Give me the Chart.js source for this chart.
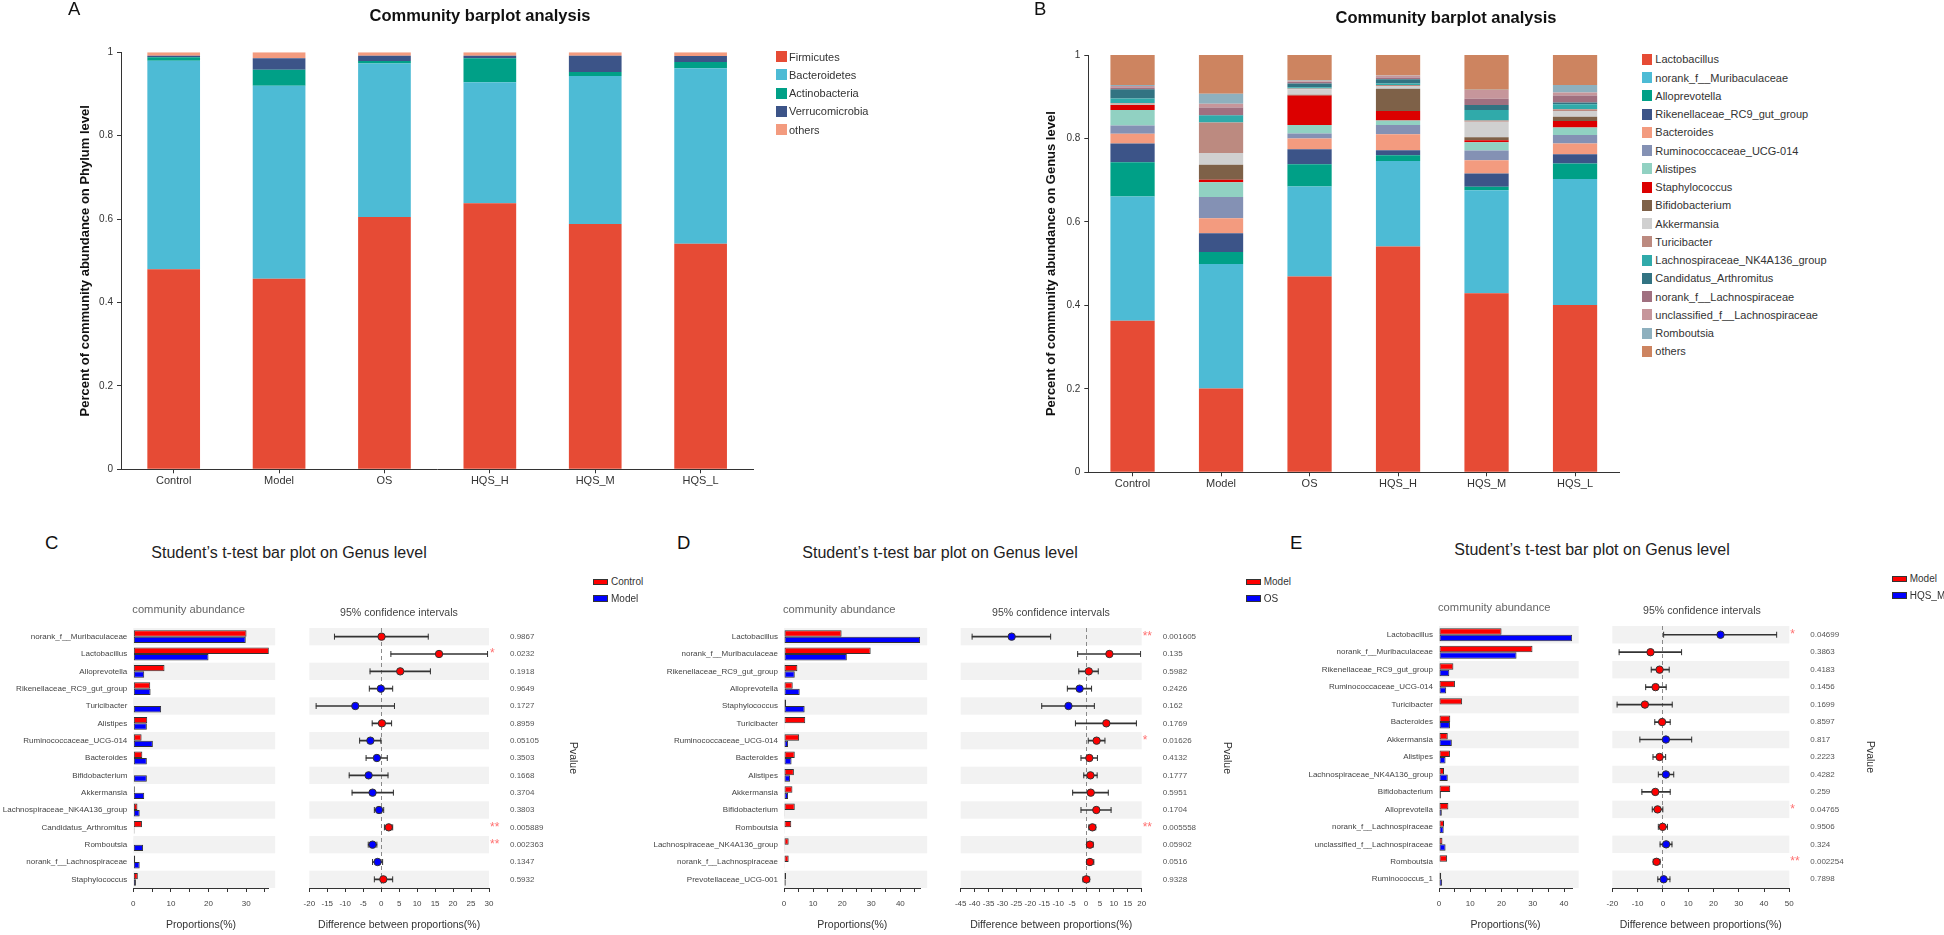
<!DOCTYPE html>
<html>
<head>
<meta charset="utf-8">
<script src="https://cdn.jsdelivr.net/npm/chart.js@4.4.1/dist/chart.umd.min.js"></script>
<style>
  body { margin: 0; background: #fff; }
  #fig { position: relative; width: 1944px; height: 935px; overflow: hidden; font-family: "Liberation Sans", Arial, sans-serif; color: #222; }
  #fig canvas { position: absolute; }
  .txt { position: absolute; white-space: nowrap; line-height: 1; }
  .sw { position: absolute; box-sizing: border-box; }
</style>
</head>
<body>
<div id="fig"></div>
<script>
// ---- panel A / B : community barplots ----
const groupsAB = ["Control", "Model", "OS", "HQS_H", "HQS_M", "HQS_L"];

const phyla = ["Firmicutes", "Bacteroidetes", "Actinobacteria", "Verrucomicrobia", "others"];
const pFirmicutes = [0.480, 0.457, 0.605, 0.638, 0.588, 0.541];
const pBacteroidetes = [0.500, 0.463, 0.368, 0.290, 0.355, 0.421];
const pActinobacteria = [0.008, 0.038, 0.006, 0.058, 0.010, 0.015];
const pVerrucomicrobia = [0.004, 0.028, 0.013, 0.006, 0.039, 0.014];
const pOthers = [0.008, 0.014, 0.008, 0.008, 0.008, 0.009];

const genera = ["Lactobacillus", "norank_f__Muribaculaceae", "Alloprevotella", "Rikenellaceae_RC9_gut_group",
  "Bacteroides", "Ruminococcaceae_UCG-014", "Alistipes", "Staphylococcus", "Bifidobacterium", "Akkermansia",
  "Turicibacter", "Lachnospiraceae_NK4A136_group", "Candidatus_Arthromitus", "norank_f__Lachnospiraceae",
  "unclassified_f__Lachnospiraceae", "Romboutsia", "others"];
const gLactobacillus = [0.363, 0.201, 0.469, 0.541, 0.429, 0.401];
const gMuribaculaceae = [0.298, 0.298, 0.216, 0.205, 0.247, 0.302];
const gAlloprevotella = [0.082, 0.029, 0.053, 0.014, 0.008, 0.037];
const gRikenellaceae = [0.045, 0.045, 0.036, 0.012, 0.032, 0.022];
const gBacteroides = [0.023, 0.036, 0.026, 0.038, 0.032, 0.026];
const gRuminococcaceae = [0.020, 0.051, 0.012, 0.022, 0.023, 0.020];
const gAlistipes = [0.037, 0.035, 0.020, 0.011, 0.020, 0.018];
const gStaphylococcus = [0.012, 0.006, 0.071, 0.023, 0.005, 0.016];
const gBifidobacterium = [0.001, 0.036, 0.002, 0.053, 0.007, 0.010];
const gAkkermansia = [0.002, 0.028, 0.013, 0.007, 0.037, 0.014];
const gTuricibacter = [0.002, 0.073, 0.002, 0.002, 0.003, 0.004];
const gLachnoNK4A136 = [0.011, 0.017, 0.003, 0.004, 0.025, 0.012];
const gCandidatus = [0.022, 0.001, 0.009, 0.010, 0.012, 0.004];
const gNorankLachno = [0.004, 0.018, 0.003, 0.004, 0.015, 0.017];
const gUnclassLachno = [0.004, 0.009, 0.002, 0.004, 0.021, 0.007];
const gRomboutsia = [0.002, 0.024, 0.002, 0.001, 0.001, 0.018];
const gOthers = [0.072, 0.093, 0.061, 0.049, 0.083, 0.072];

// ---- panel C : Control vs Model ----
const cLabels = ["norank_f__Muribaculaceae", "Lactobacillus", "Alloprevotella", "Rikenellaceae_RC9_gut_group",
  "Turicibacter", "Alistipes", "Ruminococcaceae_UCG-014", "Bacteroides", "Bifidobacterium", "Akkermansia",
  "Lachnospiraceae_NK4A136_group", "Candidatus_Arthromitus", "Romboutsia", "norank_f__Lachnospiraceae", "Staphylococcus"];
const cControl = [30.1, 36.1, 8.3, 4.5, 0.1, 3.7, 2.2, 2.4, 0.1, 0.4, 1.1, 2.3, 0.1, 0.5, 1.2];
const cModel = [29.9, 20.0, 2.9, 4.6, 7.4, 3.6, 5.2, 3.6, 3.6, 2.9, 1.7, 0.3, 2.6, 1.7, 0.7];
const cDiff = [0.1, 16.1, 5.3, -0.1, -7.2, 0.2, -3.0, -1.2, -3.5, -2.4, -0.6, 2.1, -2.4, -1.0, 0.6];
const cLow = [-13.0, 2.7, -3.1, -3.3, -18.1, -2.5, -6.0, -4.2, -8.9, -8.1, -1.9, 0.9, -3.6, -2.4, -1.9];
const cHigh = [13.1, 29.6, 13.7, 3.2, 3.7, 2.9, -0.1, 1.7, 1.9, 3.4, 0.7, 3.2, -1.2, 0.4, 3.2];
const cPvalues = ["0.9867", "0.0232", "0.1918", "0.9649", "0.1727", "0.8959", "0.05105", "0.3503", "0.1668",
  "0.3704", "0.3803", "0.005889", "0.002363", "0.1347", "0.5932"];

// ---- panel D : Model vs OS ----
const dLabels = ["Lactobacillus", "norank_f__Muribaculaceae", "Rikenellaceae_RC9_gut_group", "Alloprevotella",
  "Staphylococcus", "Turicibacter", "Ruminococcaceae_UCG-014", "Bacteroides", "Alistipes", "Akkermansia",
  "Bifidobacterium", "Romboutsia", "Lachnospiraceae_NK4A136_group", "norank_f__Lachnospiraceae", "Prevotellaceae_UCG-001"];
const dModel = [19.8, 29.8, 4.6, 3.0, 0.7, 7.3, 5.2, 3.7, 3.4, 2.9, 3.7, 2.5, 1.6, 1.6, 0.7];
const dOS = [46.8, 21.6, 3.7, 5.4, 7.1, 0.1, 1.4, 2.6, 2.1, 1.4, 0.1, 0.1, 0.1, 0.1, 0.6];
const dDiff = [-26.7, 8.4, 1.0, -2.3, -6.3, 7.3, 3.8, 1.2, 1.6, 1.7, 3.7, 2.3, 1.4, 1.4, 0.1];
const dLow = [-40.9, -3.0, -2.6, -6.7, -15.9, -3.8, 0.8, -1.8, -0.8, -4.8, -1.8, 1.0, 0.2, 0.2, -1.1];
const dHigh = [-12.7, 19.6, 4.4, 2.0, 3.0, 18.1, 6.8, 4.1, 4.0, 8.0, 9.0, 3.5, 2.6, 2.8, 1.3];
const dPvalues = ["0.001605", "0.135", "0.5982", "0.2426", "0.162", "0.1769", "0.01626", "0.4132", "0.1777",
  "0.5951", "0.1704", "0.005558", "0.05902", "0.0516", "0.9328"];

// ---- panel E : Model vs HQS_M ----
const eLabels = ["Lactobacillus", "norank_f__Muribaculaceae", "Rikenellaceae_RC9_gut_group", "Ruminococcaceae_UCG-014",
  "Turicibacter", "Bacteroides", "Akkermansia", "Alistipes", "Lachnospiraceae_NK4A136_group", "Bifidobacterium",
  "Alloprevotella", "norank_f__Lachnospiraceae", "unclassified_f__Lachnospiraceae", "Romboutsia", "Ruminococcus_1"];
const eModel = [20.0, 29.9, 4.6, 5.1, 7.4, 3.6, 2.8, 3.5, 1.6, 3.6, 3.0, 1.6, 1.1, 2.6, 0.7];
const eHQSM = [42.6, 24.8, 3.3, 2.3, 0.1, 3.5, 4.1, 2.1, 2.8, 0.6, 0.9, 1.5, 2.1, 0.1, 1.0];
const eDiff = [22.8, -4.9, -1.3, -2.9, -7.1, -0.3, 1.2, -1.3, 1.2, -3.0, -2.1, -0.1, 1.3, -2.5, 0.3];
const eLow = [0.3, -17.3, -4.6, -6.8, -18.1, -3.2, -9.1, -3.9, -1.8, -8.3, -4.2, -1.8, -1.1, -3.8, -2.0];
const eHigh = [45.0, 7.4, 2.5, 1.3, 3.7, 2.9, 11.4, 1.1, 4.3, 2.9, 0.0, 1.8, 3.6, -1.1, 2.8];
const ePvalues = ["0.04699", "0.3863", "0.4183", "0.1456", "0.1699", "0.8597", "0.817", "0.2223", "0.4282",
  "0.259", "0.04765", "0.9506", "0.324", "0.002254", "0.7898"];

const phylaColors = ["#E64B35", "#4DBBD5", "#00A087", "#3C5488", "#F39B7F"];
const genusColors = ["#E64B35", "#4DBBD5", "#00A087", "#3C5488", "#F39B7F", "#8491B4", "#91D1C2", "#DC0000",
  "#7E6148", "#D0D0D0", "#BC8A80", "#30AAAA", "#327382", "#A07080", "#C6969B", "#8EB0BE", "#CD8460"];
const RED = "#ff0000";
const BLUE = "#0000ff";

Chart.defaults.font.family = '"Liberation Sans", Arial, sans-serif';
Chart.defaults.color = "#333";

const fig = document.getElementById("fig");

function addCanvas(left, top, width, height) {
  const c = document.createElement("canvas");
  c.width = width;
  c.height = height;
  c.style.left = left + "px";
  c.style.top = top + "px";
  c.style.width = width + "px";
  c.style.height = height + "px";
  fig.appendChild(c);
  return c;
}

function addText(text, x, y, css, centered) {
  const d = document.createElement("div");
  d.className = "txt";
  d.textContent = text;
  Object.assign(d.style, css);
  d.style.left = x + "px";
  d.style.top = y + "px";
  d.style.transform = centered ? "translate(-50%,-50%)" : "translate(0,-50%)";
  fig.appendChild(d);
}

function addSwatch(x, y, w, h, color, border) {
  const s = document.createElement("div");
  s.className = "sw";
  s.style.left = x + "px";
  s.style.top = y - h / 2 + "px";
  s.style.width = w + "px";
  s.style.height = h + "px";
  s.style.background = color;
  if (border) s.style.border = "1px solid #333";
  fig.appendChild(s);
}

// light grey band behind every other row
const stripes = {
  id: "stripes",
  beforeDraw(chart, args, opts) {
    const { ctx, chartArea } = chart;
    const y = chart.scales.y;
    const n = y.getLabels().length;
    const h = (chartArea.bottom - chartArea.top) / n;
    ctx.save();
    ctx.fillStyle = "#f2f2f2";
    for (let i = 0; i < n; i += 2) {
      ctx.fillRect(chartArea.left, y.getPixelForValue(i) - h / 2, chartArea.right - chartArea.left + (opts.extend || 0), h);
    }
    ctx.restore();
  },
};

function barplotPanel(box, series, names, colors, yTitle) {
  new Chart(addCanvas(box.left, 0, box.width, 500), {
    type: "bar",
    data: {
      labels: groupsAB,
      datasets: series.map((d, i) => ({
        label: names[i],
        data: d,
        backgroundColor: colors[i],
        categoryPercentage: 1,
        barPercentage: 0.5,
      })),
    },
    options: {
      responsive: false,
      animation: false,
      events: [],
      layout: { padding: { top: box.top, right: box.left + box.width - box.right, left: 0, bottom: 0 } },
      plugins: { legend: { display: false }, tooltip: { enabled: false } },
      scales: {
        x: {
          stacked: true,
          grid: { drawOnChartArea: false, offset: false, tickLength: 4, tickColor: "#333" },
          border: { color: "#333" },
          ticks: { font: { size: 11 }, color: "#333", padding: 1.1 },
          afterFit: (s) => { s.height = 500 - box.bottom; },
        },
        y: {
          stacked: true,
          min: 0,
          max: 1,
          ticks: {
            stepSize: 0.2,
            font: { size: 10 },
            color: "#333",
            padding: 4,
            callback: (v) => String(+v.toFixed(1)),
          },
          grid: { drawOnChartArea: false, tickLength: 4, tickColor: "#333" },
          border: { color: "#333" },
          title: {
            display: true,
            text: yTitle,
            font: { size: 13, weight: "bold" },
            color: "#111",
            padding: { top: box.titleX - box.left - 7.8, bottom: 0 },
          },
          afterFit: (s) => { s.width = box.axisX - box.left; },
        },
      },
    },
  });
}

barplotPanel(
  { left: 40, width: 740, axisX: 121, right: 753.3, top: 52.3, bottom: 469.3, titleX: 85 },
  [pFirmicutes, pBacteroidetes, pActinobacteria, pVerrucomicrobia, pOthers],
  phyla, phylaColors, "Percent of community abundance on Phylum level"
);
barplotPanel(
  { left: 1000, width: 640, axisX: 1088.3, right: 1619.3, top: 55, bottom: 472.3, titleX: 1051.7 },
  [gLactobacillus, gMuribaculaceae, gAlloprevotella, gRikenellaceae, gBacteroides, gRuminococcaceae, gAlistipes,
    gStaphylococcus, gBifidobacterium, gAkkermansia, gTuricibacter, gLachnoNK4A136, gCandidatus, gNorankLachno,
    gUnclassLachno, gRomboutsia, gOthers],
  genera, genusColors, "Percent of community abundance on Genus level"
);

const letterCss = { fontSize: "18.5px", color: "#111" };
const boldTitle = { fontSize: "16.5px", fontWeight: "bold", color: "#111" };
addText("A", 68, 9, letterCss);
addText("B", 1034, 9, letterCss);
addText("Community barplot analysis", 480, 15, boldTitle, true);
addText("Community barplot analysis", 1446, 17, boldTitle, true);

phyla.forEach((name, i) => {
  const y = 56.7 + i * 18.2;
  addSwatch(775.7, y, 11, 11, phylaColors[i]);
  addText(name, 789, y, { fontSize: "11px", color: "#333" });
});
genera.forEach((name, i) => {
  const y = 59.3 + i * 18.25;
  addSwatch(1641.7, y, 10.6, 11, genusColors[i]);
  addText(name, 1655.3, y, { fontSize: "11px", color: "#333" });
});

// ---- t-test panels ----
function tTestPanel(p) {
  const canvasTop = 600;
  const padTop = p.top - canvasTop;

  // community abundance bars
  new Chart(addCanvas(p.barCanvas[0], canvasTop, p.barCanvas[1], 335), {
    type: "bar",
    data: {
      labels: p.labels,
      datasets: [
        { label: p.groups[0], data: p.v1, backgroundColor: RED },
        { label: p.groups[1], data: p.v2, backgroundColor: BLUE },
      ],
    },
    options: {
      indexAxis: "y",
      responsive: false,
      animation: false,
      events: [],
      datasets: { bar: { borderColor: "#333", borderWidth: 1, borderSkipped: false, categoryPercentage: 0.74, barPercentage: 1 } },
      layout: { padding: { top: padTop, right: p.barCanvas[0] + p.barCanvas[1] - p.barArea[1], left: 0, bottom: 0 } },
      plugins: { legend: { display: false }, tooltip: { enabled: false }, stripes: { extend: 6.5 } },
      scales: {
        x: {
          type: "linear",
          min: 0,
          max: p.barMax,
          afterBuildTicks: (s) => { s.ticks = s.ticks.filter((t) => Math.abs(t.value % 5) < 1e-6); },
          ticks: {
            stepSize: 5,
            includeBounds: false,
            autoSkip: false,
            maxRotation: 0,
            font: { size: 8 },
            color: "#444",
            padding: 7.2,
            callback: (v) => (Math.round(v) % 10 === 0 ? Math.round(v) : ""),
          },
          grid: { drawOnChartArea: false, tickLength: 4, tickColor: "#333" },
          border: { color: "#333" },
          title: { display: true, text: "Proportions(%)", font: { size: 10.5 }, color: "#333", padding: { top: 0, bottom: 3.7 } },
          afterFit: (s) => { s.height = 935 - 888; },
        },
        y: {
          type: "category",
          offset: true,
          grid: { display: false, drawTicks: false },
          border: { display: false },
          ticks: { font: { size: 8 }, color: "#444", padding: 6, autoSkip: false },
          afterFit: (s) => { s.width = p.barArea[0] - p.barCanvas[0]; },
        },
      },
    },
    plugins: [stripes],
  });

  // 95% confidence intervals
  const dotColors = p.v1.map((v, i) => (v > p.v2[i] ? RED : BLUE));
  const stars = p.pvalues.map((v) => (+v < 0.01 ? "**" : +v < 0.05 ? "*" : ""));
  const caps = [];
  p.labels.forEach((lab, i) => {
    caps.push({ x: p.low[i], y: lab }, { x: p.high[i], y: lab });
  });

  new Chart(addCanvas(p.ciCanvas[0], canvasTop, p.ciCanvas[1], 335), {
    type: "bar",
    data: {
      labels: p.labels,
      datasets: [
        {
          type: "scatter",
          data: p.diff.map((d, i) => ({ x: d, y: p.labels[i] })),
          pointBackgroundColor: dotColors,
          pointBorderColor: "#333",
          pointBorderWidth: 1,
          pointRadius: 3.7,
          yAxisID: "y",
          order: 0,
        },
        {
          type: "scatter",
          data: caps,
          pointStyle: "line",
          pointRotation: 90,
          pointRadius: 3,
          pointBorderColor: "#333",
          pointBorderWidth: 1,
          yAxisID: "y",
          order: 1,
        },
        {
          type: "bar",
          data: p.low.map((l, i) => [l, p.high[i]]),
          backgroundColor: "#333",
          barThickness: 1,
          yAxisID: "y",
          order: 2,
        },
      ],
    },
    options: {
      indexAxis: "y",
      responsive: false,
      animation: false,
      events: [],
      layout: {
        padding: {
          top: padTop,
          left: p.ciArea[0] - p.ciCanvas[0],
          right: p.ciCanvas[0] + p.ciCanvas[1] - p.pRight,
          bottom: 0,
        },
      },
      plugins: { legend: { display: false }, tooltip: { enabled: false } },
      scales: {
        x: {
          type: "linear",
          min: p.ciMin,
          max: p.ciMax,
          ticks: { stepSize: p.ciStep, includeBounds: false, autoSkip: false, maxRotation: 0, font: { size: 8 }, color: "#444", padding: 7.2 },
          grid: {
            drawOnChartArea: true,
            color: (c) => (c.tick && c.tick.value === 0 ? "#8a8a8a" : "rgba(0,0,0,0)"),
            tickLength: 4,
            tickColor: "#333",
          },
          border: { color: "#333", dash: [4, 3] },
          title: { display: true, text: "Difference between proportions(%)", font: { size: 10.5 }, color: "#333", padding: { top: 0, bottom: 3.7 } },
          afterFit: (s) => { s.height = 935 - 888; },
        },
        y: { type: "category", display: false, offset: true },
        yS: {
          type: "category",
          position: "right",
          labels: stars,
          offset: true,
          weight: 0,
          grid: { display: false, drawTicks: false },
          border: { display: false },
          ticks: { color: "#ff7070", font: { size: 12 }, padding: 1, autoSkip: false },
          afterFit: (s) => { s.width = 19; },
        },
        yP: {
          type: "category",
          position: "right",
          labels: p.pvalues,
          offset: true,
          weight: 1,
          grid: { display: false, drawTicks: false },
          border: { display: false },
          ticks: { color: "#555", font: { size: 8 }, padding: 2, autoSkip: false },
          title: { display: true, text: "Pvalue", font: { size: 10.5 }, color: "#333", padding: { top: 0, bottom: 0 } },
          afterFit: (s) => { s.width = p.pRight - p.ciArea[1] - 19; },
        },
      },
    },
    plugins: [stripes],
  });

  // headers, title and legend
  addText(p.letter, p.letterX, 543, letterCss);
  addText("Student\u2019s t-test bar plot on Genus level", p.titleX, p.titleY, { fontSize: "16px", color: "#222" }, true);
  addText("community abundance", p.barArea[0] - 1, p.top - 18, { fontSize: "11.2px", color: "#666" });
  addText("95% confidence intervals", p.ciHeadX, p.top - 16, { fontSize: "10.6px", color: "#444" });
  p.groups.forEach((g, i) => {
    const y = p.legendY + i * 16.5;
    addSwatch(p.legendX, y, 15, 6.5, i === 0 ? RED : BLUE, true);
    addText(g, p.legendX + 18, y, { fontSize: "10px", color: "#333" });
  });
}

tTestPanel({
  letter: "C", letterX: 45, titleX: 289, titleY: 553,
  labels: cLabels, groups: ["Control", "Model"], v1: cControl, v2: cModel,
  diff: cDiff, low: cLow, high: cHigh, pvalues: cPvalues,
  top: 628, barCanvas: [0, 290], barArea: [133.3, 268.7], barMax: 36,
  ciCanvas: [290, 330], ciArea: [309.3, 489], ciMin: -20, ciMax: 30, ciStep: 5, pRight: 579.3,
  ciHeadX: 340, legendX: 593, legendY: 582,
});
tTestPanel({
  letter: "D", letterX: 677, titleX: 940, titleY: 553,
  labels: dLabels, groups: ["Model", "OS"], v1: dModel, v2: dOS,
  diff: dDiff, low: dLow, high: dHigh, pvalues: dPvalues,
  top: 628, barCanvas: [640, 300], barArea: [784, 920.7], barMax: 47,
  ciCanvas: [940, 330], ciArea: [960.7, 1141.7], ciMin: -45, ciMax: 20, ciStep: 5, pRight: 1233,
  ciHeadX: 992, legendX: 1245.7, legendY: 582,
});
tTestPanel({
  letter: "E", letterX: 1290, titleX: 1592, titleY: 550,
  labels: eLabels, groups: ["Model", "HQS_M"], v1: eModel, v2: eHQSM,
  diff: eDiff, low: eLow, high: eHigh, pvalues: ePvalues,
  top: 626, barCanvas: [1290, 300], barArea: [1439, 1572.2], barMax: 42.6,
  ciCanvas: [1590, 354], ciArea: [1612.3, 1789.3], ciMin: -20, ciMax: 50, ciStep: 10, pRight: 1876.3,
  ciHeadX: 1643, legendX: 1891.7, legendY: 579,
});
</script>
</body>
</html>
